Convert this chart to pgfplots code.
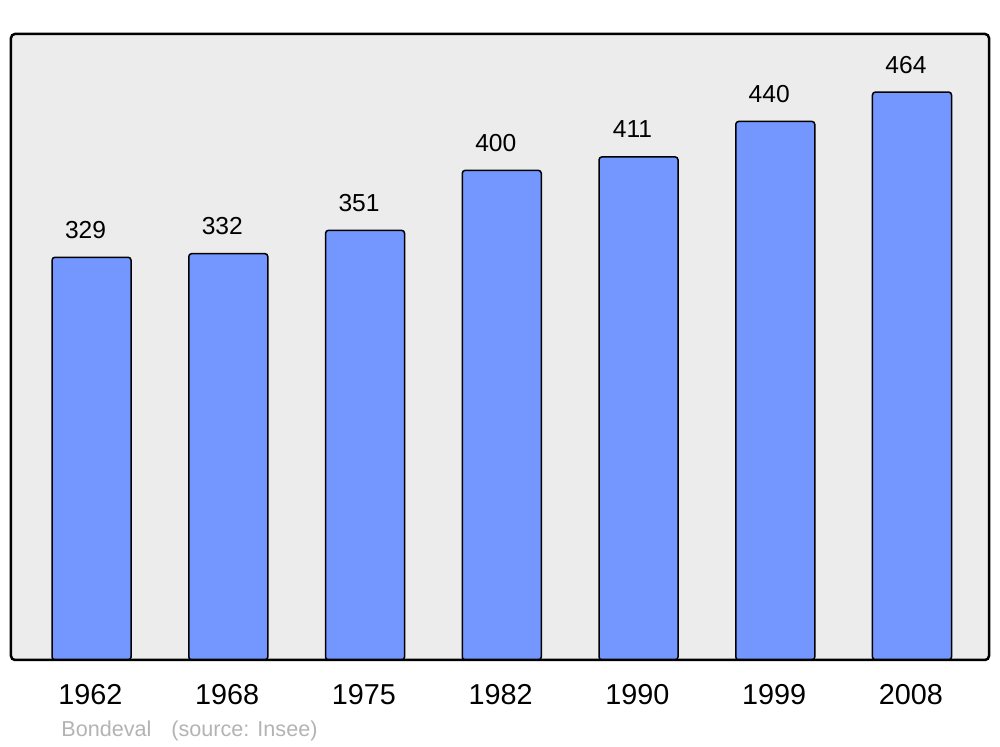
\documentclass[border=0pt]{standalone}
\usepackage{fontspec}
\setmainfont{Liberation Sans}
\usepackage{pgfplots}
\pgfplotsset{compat=1.18}
\definecolor{barblue}{HTML}{7396FF}
\definecolor{bgray}{HTML}{ECECEC}
\definecolor{srcgray}{HTML}{B3B3B3}
\begin{document}
\begin{tikzpicture}
\begin{axis}[
  scale only axis,
  width=489pt, height=313pt,
  xmin=-0.589, xmax=6.563,
  ymin=0, ymax=511.4,
  ytick=\empty,
  xtick={0,1,2,3,4,5,6},
  xticklabels={1962,1968,1975,1982,1990,1999,2008},
  major tick length=0pt,
  xticklabel style={font=\fontsize{14.4pt}{16pt}\selectfont, anchor=base, yshift=-22.5pt, xshift=-0.6pt},
  axis line style={draw=none},
  axis background/.style={fill=bgray, rounded corners=2pt},
  /pgf/number format/assume math mode=true,
  ybar, bar width=0.578, bar shift=0pt,
  nodes near coords,
  nodes near coords style={font=\fontsize{12.3pt}{14pt}\selectfont, anchor=base, yshift=9.5pt, xshift=-3pt, text=black},
  clip=false,
]
\addplot[fill=barblue, draw=black, line width=0.75pt, rounded corners=1.5pt]
  coordinates {(0,329) (1,332) (2,351) (3,400) (4,411) (5,440) (6,464)};
\coordinate (sw) at (rel axis cs:0,0);
\coordinate (ne) at (rel axis cs:1,1);
\end{axis}
\draw[line width=1.25pt, rounded corners=2pt] (sw) rectangle (ne);
\node[anchor=base west, inner sep=0pt, text=srcgray, font=\fontsize{10.8pt}{12pt}\selectfont]
  at ([shift={(25pt,-38.5pt)}]sw) {Bondeval\hspace{10pt}(source: Insee)};
\path[use as bounding box] ([shift={(-5.5pt,-43.5pt)}]sw) rectangle ([shift={(5.5pt,17pt)}]ne);
\end{tikzpicture}
\end{document}
